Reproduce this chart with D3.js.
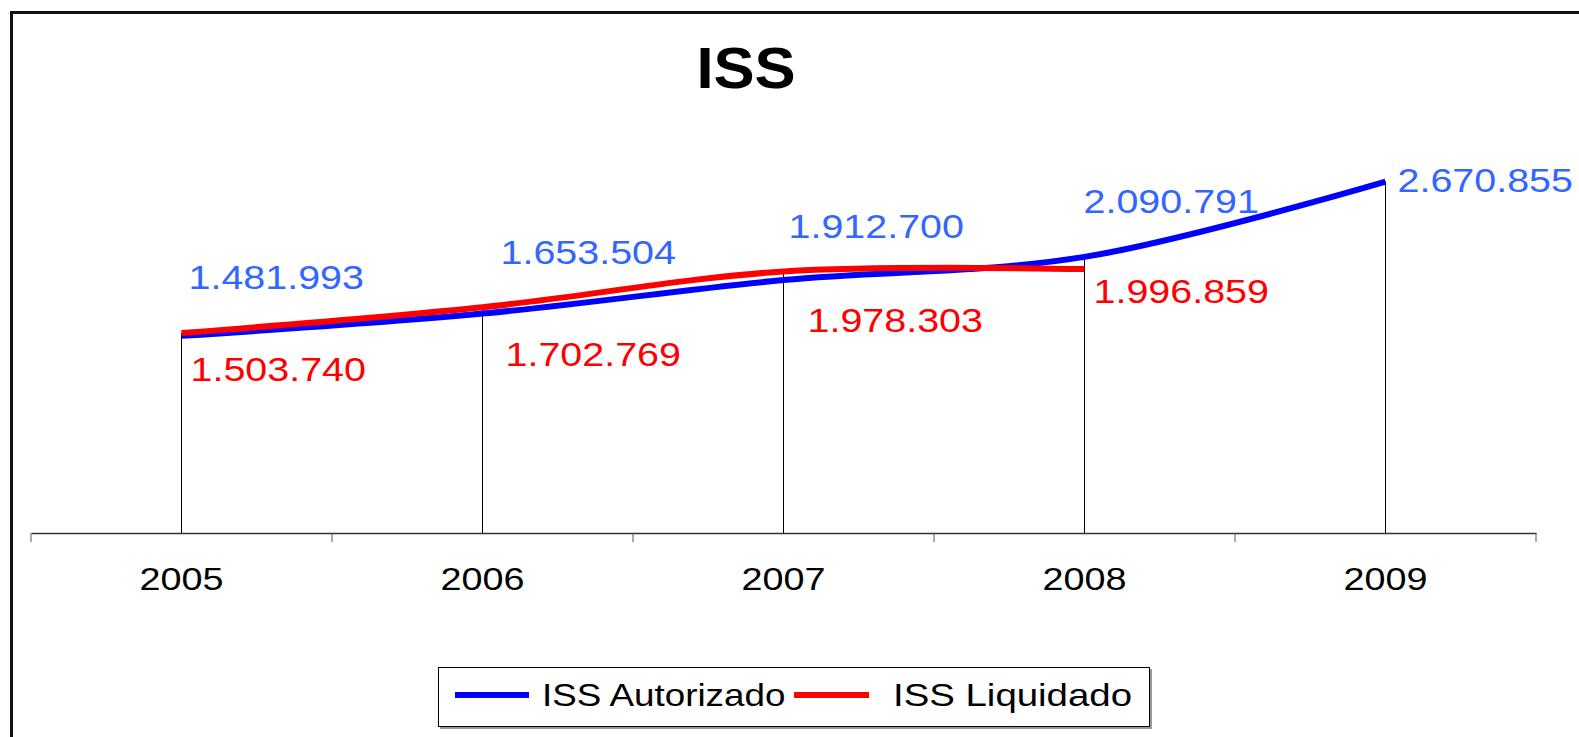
<!DOCTYPE html>
<html>
<head>
<meta charset="utf-8">
<script src="https://cdn.jsdelivr.net/npm/d3@7"></script>
<style>
  html, body { margin: 0; padding: 0; background: #fff; }
  svg { display: block; font-family: 'Liberation Sans', Arial, sans-serif; }
</style>
</head>
<body>
<div id="chart"></div>
<script>
// chart data
var years = ['2005', '2006', '2007', '2008', '2009'];
var autorizado = [1481993, 1653504, 1912700, 2090791, 2670855];
var liquidado = [1503740, 1702769, 1978303, 1996859, null];
var seriesNames = ['ISS Autorizado', 'ISS Liquidado'];
var title = 'ISS';

// manual label nudges (px), like the hand-placed labels of the original
var autorizadoNudge = [[7, -47], [18, -50], [5, -42], [-1, -44], [12, 10]];
var liquidadoNudge = [[9, 48], [23, 59], [24, 61], [9, 34]];

var width = 1579,
    height = 737,
    axisY = 533,
    textStretch = 1.16,
    ptBR = d3.formatLocale({decimal: ',', thousands: '.', grouping: [3], currency: ['R$', '']}),
    fmt = ptBR.format(',d'),
    svg;

svg = d3.select('#chart')
    .append('svg')
    .attr('width', width)
    .attr('height', height);

// the source text is drawn a little wider than normal Arial
function stretched(sel, x, y, k){
    return sel.attr('transform', 'translate(' + x + ',' + y + ') scale(' + k + ',1)');
}

// outer frame (runs off the right and bottom of the picture)
svg.append('rect')
    .attr('x', 11.5)
    .attr('y', 12.5)
    .attr('width', width + 50)
    .attr('height', height + 50)
    .attr('fill', 'none')
    .attr('stroke', '#111')
    .attr('stroke-width', 3);

var x = d3.scaleBand()
    .domain(years)
    .range([31, 1536])
    .paddingInner(0)
    .paddingOuter(0);

var y = d3.scaleLinear()
    .domain([0, 3000000])
    .range([528, 139]);

var cx = (d) => x(d) + x.bandwidth() / 2;

// title
stretched(svg.append('text'), 746, 88, 1.08)
    .text(title)
    .attr('text-anchor', 'middle')
    .attr('font-size', '57px')
    .attr('font-weight', 'bold')
    .attr('fill', '#000');

// category axis
var xAxis = d3.axisBottom(x)
    .tickSizeInner(0)
    .tickSizeOuter(0)
    .tickFormat('');

svg.append('g')
    .attr('transform', 'translate(0,' + axisY + ')')
    .call(xAxis)
    .call(g => g.select('.domain').attr('stroke', '#333').attr('stroke-width', 1.5));

// tick marks on the band edges
var edges = years.map((d) => x(d)).concat([x(years[years.length - 1]) + x.bandwidth()]);
svg.append('g')
    .selectAll('line')
    .data(edges)
    .enter()
    .append('line')
    .attr('x1', (d) => d)
    .attr('x2', (d) => d)
    .attr('y1', axisY)
    .attr('y2', axisY + 9)
    .attr('stroke', '#555')
    .attr('stroke-width', 1);

svg.append('g')
    .selectAll('text')
    .data(years)
    .enter()
    .append('text')
    .each(function(d){ stretched(d3.select(this), cx(d), 590, 1.18); })
    .text((d) => d)
    .attr('text-anchor', 'middle')
    .attr('font-size', '32px')
    .attr('fill', '#000');

// drop lines from the highest point of each year down to the axis
svg.append('g')
    .selectAll('line')
    .data(years)
    .enter()
    .append('line')
    .attr('x1', (d) => cx(d))
    .attr('x2', (d) => cx(d))
    .attr('y1', (d, i) => y(d3.max([autorizado[i], liquidado[i]])))
    .attr('y2', axisY)
    .attr('stroke', '#000')
    .attr('stroke-width', 1);

// smoothed series lines
var line = d3.line()
    .defined((d) => d.v != null)
    .x((d) => cx(d.year))
    .y((d) => y(d.v))
    .curve(d3.curveCardinal.tension(0));

var series = [
    {name: seriesNames[0], values: autorizado, color: '#0000ff', label: '#3366ff', nudge: autorizadoNudge},
    {name: seriesNames[1], values: liquidado, color: '#ff0000', label: '#ff0000', nudge: liquidadoNudge}
];

series.forEach(function(s){
    var pts = years.map((yr, i) => ({year: yr, v: s.values[i]}));

    svg.append('path')
        .datum(pts)
        .attr('d', line)
        .attr('fill', 'none')
        .attr('stroke', s.color)
        .attr('stroke-width', 6)
        .attr('stroke-linejoin', 'round');

    svg.append('g')
        .selectAll('text')
        .data(pts.filter((d) => d.v != null))
        .enter()
        .append('text')
        .each(function(d, i){
            stretched(d3.select(this), cx(d.year) + s.nudge[i][0], y(d.v) + s.nudge[i][1], textStretch);
        })
        .text((d) => fmt(d.v))
        .attr('font-size', '34px')
        .attr('fill', s.label);
});

// legend
var legend = svg.append('g');

legend.append('rect')
    .attr('x', 440)
    .attr('y', 669)
    .attr('width', 712)
    .attr('height', 60)
    .attr('fill', '#999');

legend.append('rect')
    .attr('x', 438.5)
    .attr('y', 667.5)
    .attr('width', 711)
    .attr('height', 59)
    .attr('fill', '#fff')
    .attr('stroke', '#000')
    .attr('stroke-width', 1);

var legendX = [[455, 529, 542, 1.15], [794, 869, 893, 1.2]];

series.forEach(function(s, i){
    legend.append('line')
        .attr('x1', legendX[i][0])
        .attr('x2', legendX[i][1])
        .attr('y1', 695)
        .attr('y2', 695)
        .attr('stroke', s.color)
        .attr('stroke-width', 6);

    stretched(legend.append('text'), legendX[i][2], 706, legendX[i][3])
        .text(s.name)
        .attr('font-size', '32px')
        .attr('fill', '#000');
});
</script>
</body>
</html>
